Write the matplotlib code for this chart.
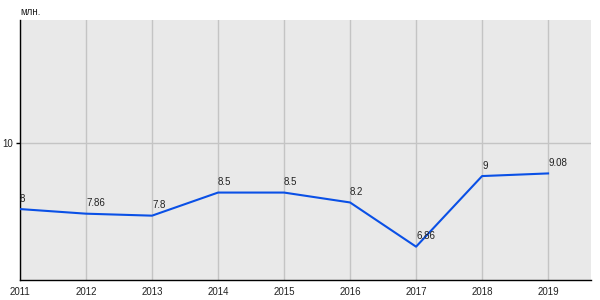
import matplotlib
matplotlib.use("Agg")
import matplotlib.pyplot as plt

plt.rcParams["font.family"] = ["Liberation Sans", "DejaVu Sans"]

years = [2011, 2012, 2013, 2014, 2015, 2016, 2017, 2018, 2019]
values = [8, 7.86, 7.8, 8.5, 8.5, 8.2, 6.86, 9, 9.08]
labels = ["8", "7.86", "7.8", "8.5", "8.5", "8.2", "6.86", "9", "9.08"]

fig = plt.figure(figsize=(6, 3), dpi=100)
ax = fig.add_axes([20 / 600, 20 / 300, 571 / 600, 260 / 300])
ax.set_facecolor("#e9e9e9")

ax.plot(years, values, color="#0a50e6", linewidth=1.5, zorder=3)
for x, y, t in zip(years, values, labels):
    ax.annotate(t, (x, y), xytext=(0, 4), textcoords="offset points",
                ha="left", va="bottom", fontsize=7, color="#222222", zorder=4)

ax.set_xlim(2011, 2019.65)
ax.set_ylim(5.85, 13.73)
ax.set_xticks(years)
ax.set_xticklabels([str(y) for y in years], fontsize=7, color="#222222")
ax.set_yticks([10])
ax.set_yticklabels(["10"], fontsize=7, color="#222222")
ax.tick_params(axis="x", length=0, pad=5)
ax.tick_params(axis="y", length=3, width=1, pad=2)

ax.grid(True, color="#c4c4c4", linewidth=1)
ax.set_axisbelow(True)
for s in ["top", "right"]:
    ax.spines[s].set_visible(False)
ax.spines["left"].set_linewidth(1.0)
ax.spines["bottom"].set_linewidth(1.0)

fig.text(20 / 600, 1 - 12 / 300, "млн.", fontsize=7, ha="left", va="center", color="#222222")

fig.savefig("out.png", dpi=100)
